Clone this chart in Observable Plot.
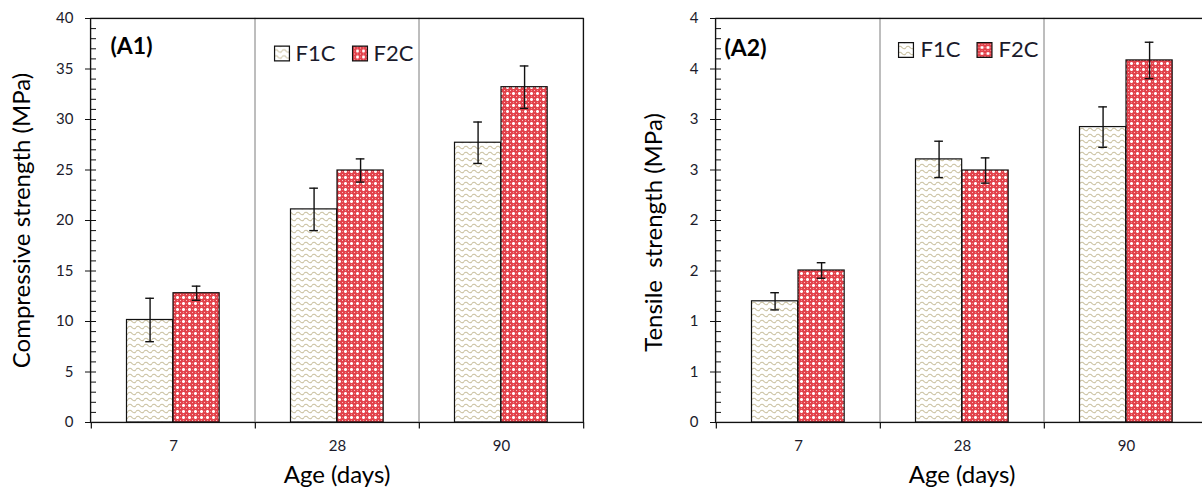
<!DOCTYPE html>
<html><head><meta charset="utf-8">
<script src="https://cdn.jsdelivr.net/npm/d3@7"></script>
<script src="https://cdn.jsdelivr.net/npm/@observablehq/plot@0.6"></script>
<style>
html,body{margin:0;padding:0;background:#fff;overflow:hidden;}
#wrap{position:relative;width:1202px;height:494px;overflow:hidden;background:#fff;}
.panel{position:absolute;top:0;height:494px;}
.panel svg{max-width:none !important;}
svg text{white-space:pre;}
</style></head><body>
<div id="wrap"><div class="panel" id="p1" style="left:0px;width:600px"></div><div class="panel" id="p2" style="left:600px;width:610px"></div></div>
<script>
// ---- data ----
const ages = ["7", "28", "90"];
const series = ["F1C", "F2C"];
const compF1C = [10.15, 21.1, 27.7];
const compF1CErr = [2.15, 2.1, 2.05];
const compF2C = [12.8, 24.95, 33.2];
const compF2CErr = [0.7, 1.15, 2.1];
const tensF1C = [1.2, 2.605, 2.925];
const tensF1CErr = [0.085, 0.18, 0.2];
const tensF2C = [1.505, 2.495, 3.585];
const tensF2CErr = [0.077, 0.125, 0.18];
const compYTicks = [0, 5, 10, 15, 20, 25, 30, 35, 40];
const compYLabels = ["0", "5", "10", "15", "20", "25", "30", "35", "40"];
const tensYTicks = [0, 0.5, 1, 1.5, 2, 2.5, 3, 3.5, 4];
const tensYLabels = ["0", "1", "1", "2", "2", "3", "3", "4", "4"];

function rowsOf(a, aErr, b, bErr) {
  return ages.flatMap((age, i) => [
    {age, series: series[0], value: a[i], lo: a[i] - aErr[i], hi: a[i] + aErr[i]},
    {age, series: series[1], value: b[i], lo: b[i] - bErr[i], hi: b[i] + bErr[i]}
  ]);
}

function defsMark(id) {
  return () => {
    const defs = d3.create("svg:defs");
    const w = defs.append("pattern").attr("id", "wave" + id).attr("patternUnits", "userSpaceOnUse").attr("width", 8).attr("height", 6);
    w.append("rect").attr("width", 8).attr("height", 6).attr("fill", "#fff");
    w.append("path").attr("d", "M0,3.5 Q2,1 4,3.5 T8,3.5").attr("fill", "none").attr("stroke", "#cbc2a2").attr("stroke-width", 1.2);
    const c = defs.append("pattern").attr("id", "cross" + id).attr("patternUnits", "userSpaceOnUse").attr("width", 6).attr("height", 6);
    c.append("rect").attr("width", 6).attr("height", 6).attr("fill", "#e2424b");
    const px = (x, y, f) => c.append("rect").attr("x", x).attr("y", y).attr("width", 1).attr("height", 1).attr("fill", f).attr("shape-rendering", "crispEdges");
    // white plus
    px(3, 2, "#fff"); px(2, 3, "#fff"); px(3, 3, "#fff"); px(4, 3, "#fff"); px(3, 4, "#fff");
    // pink diagonals and corners
    px(2, 2, "#f4abaf"); px(4, 2, "#f4abaf"); px(2, 4, "#f4abaf"); px(4, 4, "#f4abaf");
    px(0, 0, "#f7c0c2"); px(0, 3, "#ee8a8f"); px(3, 0, "#ee8a8f");
    return defs.node();
  };
}

const tickDown = {draw(ctx) { ctx.moveTo(0, 0); ctx.lineTo(0, 6); }};

function chart(o) {
  const width = o.width, ml = o.marginLeft, mr = o.marginRight;
  const W = (width - ml - mr) / ages.length; // band width (px)
  const fills = {F1C: `url(#wave${o.id})`, F2C: `url(#cross${o.id})`};
  const barIn = {F1C: [35.5, W - 82], F2C: [82, W - 128.5]};
  const errDx = {F1C: 58.75 - W / 2, F2C: 105.25 - W / 2};
  const capIn = (W - 9) / 2;
  const marks = [defsMark(o.id)];
  // category separators
  marks.push(Plot.barY(ages, {x: d => d, y1: 0, y2: o.yMax, fill: "none", stroke: "#a8a8a8", strokeWidth: 1}));
  for (const s of series) {
    const data = o.rows.filter(d => d.series === s);
    marks.push(Plot.barY(data, {x: "age", y: "value", fill: fills[s], stroke: "#111", strokeWidth: 1.2, insetLeft: barIn[s][0], insetRight: barIn[s][1]}));
    marks.push(Plot.ruleX(data, {x: "age", y1: "lo", y2: "hi", dx: errDx[s], stroke: "#111", strokeWidth: 1.4}));
    marks.push(Plot.tickY(data, {x: "age", y: "hi", dx: errDx[s], insetLeft: capIn, insetRight: capIn, stroke: "#111", strokeWidth: 1.4}));
    marks.push(Plot.tickY(data, {x: "age", y: "lo", dx: errDx[s], insetLeft: capIn, insetRight: capIn, stroke: "#111", strokeWidth: 1.4}));
  }
  marks.push(Plot.frame({stroke: "#111", strokeWidth: 1.2}));
  // y axis
  marks.push(Plot.axisY(o.minorTicks, {tickSize: -6, tickFormat: () => "", label: null, stroke: "#111"}));
  marks.push(Plot.axisY(o.yTicks, {tickSize: 5, tickPadding: 12, tickFormat: d => o.yLabels[o.yTicks.indexOf(d)], label: null, fontSize: 15, fill: "#1b1b2b", stroke: "#111"}));
  // x axis
  marks.push(Plot.axisX(ages, {tickSize: 0, tickPadding: 18, fontSize: 15, label: null, fill: "#1b1b2b"}));
  marks.push(Plot.dot(ages, {x: d => d, y: 0, dx: -W / 2, symbol: tickDown, stroke: "#111", strokeWidth: 1.2}));
  marks.push(Plot.dot([ages[ages.length - 1]], {x: d => d, y: 0, dx: W / 2, symbol: tickDown, stroke: "#111", strokeWidth: 1.2}));
  // titles
  marks.push(Plot.text([o.yTitle], {frameAnchor: "left", dx: o.titleDx, dy: o.titleDy, rotate: -90, textAnchor: "middle", lineAnchor: "middle", fontSize: 24, fill: "#000"}));
  marks.push(Plot.text(["Age (days)"], {frameAnchor: "bottom", dy: 53, textAnchor: "middle", lineAnchor: "middle", fontSize: 24, fill: "#000"}));
  marks.push(Plot.text([o.tag], {frameAnchor: "top-left", dx: o.tagDx, dy: o.tagDy, textAnchor: "start", lineAnchor: "middle", fontSize: 23, fontWeight: "bold", fill: "#000"}));
  // legend
  series.forEach((s, i) => {
    marks.push(Plot.dot([s], {frameAnchor: "top-left", dx: o.legDx[i], dy: o.legDy, symbol: "square", r: 8.4, fill: fills[s], stroke: "#111", strokeWidth: 1.2}));
    marks.push(Plot.text([s], {frameAnchor: "top-left", dx: o.legTextDx[i], dy: o.legDy, textAnchor: "start", lineAnchor: "middle", fontSize: 22, fill: "#1b1b2b"}));
  });
  return Plot.plot({
    width, height: 494,
    marginLeft: ml, marginRight: mr, marginTop: 18, marginBottom: 72,
    style: {fontFamily: "Lato, 'Open Sans', sans-serif", background: "#fff", color: "#111", maxWidth: "none"},
    x: {domain: ages, padding: 0},
    y: {domain: [0, o.yMax]},
    marks
  });
}

const compRows = rowsOf(compF1C, compF1CErr, compF2C, compF2CErr);
const tensRows = rowsOf(tensF1C, tensF1CErr, tensF2C, tensF2CErr);

document.getElementById("p1").append(chart({
  id: 1, rows: compRows, width: 600, marginLeft: 90, marginRight: 17, yMax: 40,
  yTicks: compYTicks, yLabels: compYLabels, minorTicks: d3.range(0, 41, 1),
  yTitle: "Compressive strength (MPa)", titleDx: -68, titleDy: 0,
  tag: "(A1)", tagDx: 20, tagDy: 28,
  legDx: [191.5, 269.5], legTextDx: [205, 283], legDy: 35
}));
document.getElementById("p2").append(chart({
  id: 2, rows: tensRows, width: 610, marginLeft: 115, marginRight: 2, yMax: 4,
  yTicks: tensYTicks, yLabels: tensYLabels, minorTicks: d3.range(0, 41, 1).map(d => d / 10),
  yTitle: "Tensile  strength (MPa)", titleDx: -61, titleDy: 12,
  tag: "(A2)", tagDx: 9, tagDy: 30,
  legDx: [190.5, 269], legTextDx: [205, 283], legDy: 31.5
}));
</script>
</body></html>
